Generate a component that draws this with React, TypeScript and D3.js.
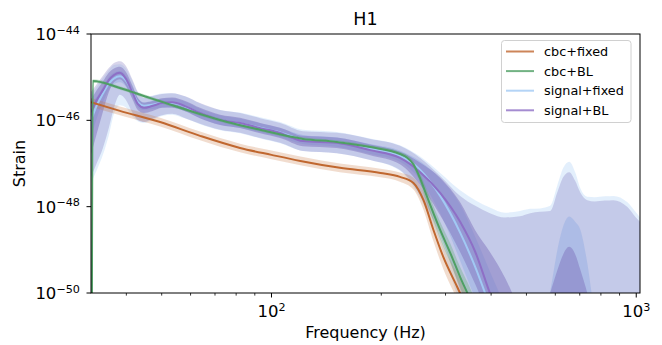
import React from 'react';
import * as d3 from 'd3';

const WIDTH = 662;
const HEIGHT = 345;
const PLOT = { left: 91, right: 640, top: 34, bottom: 293 };
const FONT = '"DejaVu Sans", sans-serif';

const X_DOMAIN = [32, 1024];
const Y_DOMAIN = [1e-50, 1e-44];

const xMajorTicks = [100, 1000];
const xMajorExps = ['2', '3'];
const xMinorTicks = [40, 50, 60, 70, 80, 90, 200, 300, 400, 500, 600, 700, 800, 900];
const yTickExps = [-44, -46, -48, -50];

const labels = ['cbc+fixed', 'cbc+BL', 'signal+fixed', 'signal+BL'];
const colors = ['#c0672f', '#4f9f64', '#a1c9f4', '#8e6fc6'];
const bandColors = ['#c8733c', '#55a868', '#a1c9f4', '#7f74bd'];

// values are log10(strain)
// cbc+fixed
const cbcFixedFreq = [32, 38.4, 49.5, 63.7, 82, 100, 120, 154, 199, 225, 245, 261, 278, 296, 323, 350, 380];
const cbcFixedMed = [-45.58, -45.78, -46.04, -46.36, -46.64, -46.8, -46.94, -47.1, -47.22, -47.31, -47.45, -47.85, -48.54, -49.17, -49.86, -50.5, -51.2];
const cbcFixedLo = [-45.69, -45.88, -46.14, -46.46, -46.74, -46.9, -47.04, -47.2, -47.32, -47.42, -47.6, -48.07, -48.8, -49.45, -50.15, -50.8, -51.5];
const cbcFixedHi = [-45.48, -45.68, -45.94, -46.26, -46.54, -46.7, -46.84, -47.0, -47.12, -47.21, -47.33, -47.64, -48.28, -48.9, -49.55, -50.2, -50.9];

// cbc+BL
const cbcBLFreq = [32.15, 32.35, 38.4, 45.6, 56.2, 75.6, 93.1, 122, 151, 186.5, 225, 235, 245, 255.7, 265, 290, 309, 329, 351, 380];
const cbcBLMed = [-52, -45.09, -45.25, -45.46, -45.71, -46.04, -46.22, -46.43, -46.5, -46.62, -46.78, -46.86, -47.02, -47.35, -47.7, -48.54, -49.07, -49.63, -50.16, -50.9];
const cbcBLLo = [-52, -45.13, -45.29, -45.5, -45.75, -46.08, -46.26, -46.47, -46.54, -46.66, -46.83, -46.92, -47.1, -47.46, -47.86, -48.75, -49.3, -49.88, -50.45, -51.2];
const cbcBLHi = [-52, -45.05, -45.21, -45.42, -45.67, -46.0, -46.18, -46.39, -46.46, -46.58, -46.73, -46.8, -46.94, -47.24, -47.55, -48.35, -48.85, -49.4, -49.9, -50.6];

// signal runs: medians on the first 29 frequencies, bands on all of them
const sigFreq = [32, 33.2, 34.5, 35.8, 37.0, 38.4, 39.9, 41.5, 43.0, 44.7, 47.0, 50.1, 53.4, 58.0, 63.7, 72.3, 82, 93.1, 105.6, 122, 151, 186.5, 225, 255.7, 290, 329, 362, 397, 437, 480, 512, 545, 581, 608, 631, 655, 680, 703, 734, 770, 820, 865, 946, 995, 1024];

const sigFixedMed = [-46.0, -45.65, -45.38, -45.15, -45.03, -44.98, -45.08, -45.33, -45.58, -45.66, -45.64, -45.6, -45.6, -45.68, -45.84, -45.99, -46.07, -46.17, -46.28, -46.44, -46.5, -46.66, -46.82, -47.15, -47.75, -48.6, -49.4, -50.3, -51.2];
const sigFixedOuterHi = [-45.4, -45.22, -45.02, -44.84, -44.72, -44.7, -44.8, -45.08, -45.36, -45.47, -45.43, -45.38, -45.37, -45.45, -45.61, -45.76, -45.82, -45.93, -46.04, -46.22, -46.27, -46.42, -46.58, -46.84, -47.22, -47.62, -47.85, -48.02, -48.14, -48.1, -48.05, -48.04, -47.98, -47.5, -47.1, -46.96, -47.2, -47.58, -47.77, -47.78, -47.76, -47.75, -47.9, -48.12, -48.25];
const sigFixedOuterLo = [-47.45, -47.15, -46.8, -46.35, -45.85, -45.65, -45.7, -45.9, -46.02, -46.06, -45.99, -45.9, -45.87, -45.96, -46.09, -46.23, -46.3, -46.42, -46.53, -46.71, -46.76, -46.92, -47.17, -47.8, -48.85, -50.3, -51.5, -52, -52, -52, -52, -52, -52, -52, -52, -52, -52, -52, -52, -52, -52, -52, -52, -52, -52];
const sigFixedInnerHi = [-45.6, -45.45, -45.22, -45.0, -44.9, -44.86, -44.96, -45.22, -45.48, -45.58, -45.55, -45.5, -45.49, -45.57, -45.73, -45.88, -45.96, -46.07, -46.18, -46.34, -46.4, -46.55, -46.7, -46.95, -47.35, -47.95, -48.7, -49.5, -50.3, -51.0, -51.3, -50.9, -49.95, -49.0, -48.45, -48.23, -48.35, -48.54, -49.3, -50.5, -51.2, -52, -52, -52, -52];
const sigFixedInnerLo = [-46.4, -45.95, -45.58, -45.3, -45.16, -45.12, -45.22, -45.46, -45.7, -45.76, -45.74, -45.7, -45.71, -45.79, -45.95, -46.1, -46.18, -46.28, -46.39, -46.55, -46.61, -46.78, -46.96, -47.38, -48.15, -49.25, -50.15, -51.1, -52, -52, -52, -52, -52, -52, -52, -52, -52, -52, -52, -52, -52, -52, -52, -52, -52];

const sigBLMed = [-45.81, -45.53, -45.3, -45.07, -44.95, -44.9, -45.04, -45.34, -45.62, -45.71, -45.67, -45.6, -45.58, -45.67, -45.83, -45.99, -46.06, -46.18, -46.29, -46.48, -46.52, -46.69, -46.87, -47.2, -47.68, -48.35, -49.05, -50.0, -50.86];
const sigBLOuterHi = [-45.34, -45.16, -44.97, -44.79, -44.67, -44.63, -44.74, -45.04, -45.34, -45.48, -45.44, -45.39, -45.37, -45.44, -45.6, -45.76, -45.83, -45.95, -46.06, -46.25, -46.29, -46.43, -46.59, -46.87, -47.29, -47.75, -47.98, -48.15, -48.25, -48.22, -48.15, -48.12, -48.1, -47.66, -47.31, -47.2, -47.4, -47.68, -47.85, -47.88, -47.86, -47.85, -48.01, -48.24, -48.35];
const sigBLOuterLo = [-47.31, -46.99, -46.64, -46.18, -45.71, -45.41, -45.53, -45.81, -45.99, -46.04, -45.97, -45.88, -45.85, -45.95, -46.08, -46.22, -46.29, -46.41, -46.52, -46.71, -46.76, -46.92, -47.15, -47.73, -48.66, -49.93, -51.0, -52, -52, -52, -52, -52, -52, -52, -52, -52, -52, -52, -52, -52, -52, -52, -52, -52, -52];
const sigBLInnerHi = [-45.52, -45.3, -45.1, -44.9, -44.8, -44.76, -44.88, -45.18, -45.48, -45.59, -45.56, -45.49, -45.47, -45.55, -45.71, -45.87, -45.94, -46.06, -46.17, -46.36, -46.4, -46.56, -46.73, -46.98, -47.33, -47.9, -48.55, -49.05, -49.65, -50.4, -50.85, -50.75, -50.0, -49.47, -49.1, -48.93, -49.1, -49.47, -50.0, -50.7, -51.5, -52, -52, -52, -52];
const sigBLInnerLo = [-46.8, -46.3, -45.8, -45.35, -45.12, -45.05, -45.2, -45.5, -45.76, -45.83, -45.79, -45.71, -45.7, -45.79, -45.95, -46.11, -46.18, -46.3, -46.41, -46.6, -46.64, -46.81, -47.02, -47.5, -48.2, -49.05, -49.8, -50.6, -51.4, -52, -52, -52, -52, -52, -52, -52, -52, -52, -52, -52, -52, -52, -52, -52, -52];

const xs = d3.scaleLog().domain(X_DOMAIN).range([PLOT.left, PLOT.right]);
const ys = d3.scaleLog().domain(Y_DOMAIN).range([PLOT.bottom, PLOT.top]);

function linePath(freq: number[], vals: number[]) {
  return d3.line<number>()
    .x((_, i) => xs(freq[i]))
    .y(d => ys(Math.pow(10, d)))
    .curve(d3.curveMonotoneX)(vals) ?? '';
}

function bandPath(freq: number[], lo: number[], hi: number[]) {
  return d3.area<number>()
    .x((_, i) => xs(freq[i]))
    .y0((_, i) => ys(Math.pow(10, lo[i])))
    .y1(d => ys(Math.pow(10, d)))
    .curve(d3.curveMonotoneX)(hi) ?? '';
}

export default function App() {
  const [cOrange, cGreen, cBlue, cPurple] = colors;
  const [fOrange, fGreen, fBlue, fPurple] = bandColors;

  const bands = [
    { d: bandPath(sigFreq, sigFixedOuterLo, sigFixedOuterHi), fill: fBlue, op: 0.3 },
    { d: bandPath(sigFreq, sigFixedInnerLo, sigFixedInnerHi), fill: fBlue, op: 0.5 },
    { d: bandPath(sigFreq, sigBLOuterLo, sigBLOuterHi), fill: fPurple, op: 0.3 },
    { d: bandPath(sigFreq, sigBLInnerLo, sigBLInnerHi), fill: fPurple, op: 0.5 },
    { d: bandPath(cbcFixedFreq, cbcFixedLo, cbcFixedHi), fill: fOrange, op: 0.25 },
    { d: bandPath(cbcBLFreq, cbcBLLo, cbcBLHi), fill: fGreen, op: 0.3 },
  ];
  const lines = [
    { d: linePath(sigFreq.slice(0, sigFixedMed.length), sigFixedMed), stroke: cBlue },
    { d: linePath(sigFreq.slice(0, sigBLMed.length), sigBLMed), stroke: cPurple },
    { d: linePath(cbcFixedFreq, cbcFixedMed), stroke: cOrange },
    { d: linePath(cbcBLFreq, cbcBLMed), stroke: cGreen },
  ];

  const legendX = 501.5, legendY = 40.5;

  return (
    <svg width={WIDTH} height={HEIGHT} style={{ position: 'absolute', left: 0, top: 0, background: '#fff' }}
      fontFamily={FONT}>
      <defs>
        <clipPath id="plot-clip">
          <rect x={PLOT.left} y={PLOT.top} width={PLOT.right - PLOT.left} height={PLOT.bottom - PLOT.top} />
        </clipPath>
      </defs>

      <g clipPath="url(#plot-clip)">
        {bands.map((b, i) => <path key={'b' + i} d={b.d} fill={b.fill} fillOpacity={b.op} stroke="none" />)}
        {lines.map((l, i) => <path key={'l' + i} d={l.d} fill="none" stroke={l.stroke} strokeWidth={2} strokeLinejoin="round" />)}
      </g>

      {/* frame */}
      <rect x={PLOT.left} y={PLOT.top} width={PLOT.right - PLOT.left} height={PLOT.bottom - PLOT.top}
        fill="none" stroke="#000" strokeWidth={1} />

      {/* x ticks */}
      {xMajorTicks.map((t, i) => (
        <g key={'xt' + t}>
          <line x1={xs(t)} x2={xs(t)} y1={PLOT.bottom} y2={PLOT.bottom + 4.5} stroke="#000" strokeWidth={1} />
          <text x={xs(t)} y={317} textAnchor="middle" fontSize={16.5} fill="#000">
            10<tspan dy={-6.5} fontSize={11.2}>{xMajorExps[i]}</tspan>
          </text>
        </g>
      ))}
      {xMinorTicks.map(t => (
        <line key={'xm' + t} x1={xs(t)} x2={xs(t)} y1={PLOT.bottom} y2={PLOT.bottom + 2.6} stroke="#000" strokeWidth={0.8} />
      ))}

      {/* y ticks */}
      {yTickExps.map(e => {
        const y = ys(Math.pow(10, e));
        return (
          <g key={'yt' + e}>
            <line x1={PLOT.left - 4.5} x2={PLOT.left} y1={y} y2={y} stroke="#000" strokeWidth={1} />
            <text x={80} y={y + 6} textAnchor="end" fontSize={16.5} fill="#000">
              10<tspan dy={-6.5} fontSize={11.2}>{'\u2212' + Math.abs(e)}</tspan>
            </text>
          </g>
        );
      })}

      {/* axis labels and title */}
      <text x={(PLOT.left + PLOT.right) / 2} y={338} textAnchor="middle" fontSize={16} fill="#000">Frequency (Hz)</text>
      <text transform={`translate(25,${(PLOT.top + PLOT.bottom) / 2}) rotate(-90)`} textAnchor="middle" fontSize={16} fill="#000">Strain</text>
      <text x={(PLOT.left + PLOT.right) / 2} y={25} textAnchor="middle" fontSize={17.5} fill="#000">H1</text>

      {/* legend */}
      <rect x={legendX} y={legendY} width={129.5} height={82} rx={3} fill="#fff" fillOpacity={0.8} stroke="#d0d0d0" strokeWidth={1} />
      {labels.map((lab, i) => {
        const y = 51.5 + i * 19.6;
        return (
          <g key={lab}>
            <line x1={506} x2={534} y1={y} y2={y} stroke={colors[i]} strokeOpacity={0.8} strokeWidth={2} />
            <text x={544} y={y + 4.5} fontSize={12.8} fill="#000">{lab}</text>
          </g>
        );
      })}
    </svg>
  );
}
